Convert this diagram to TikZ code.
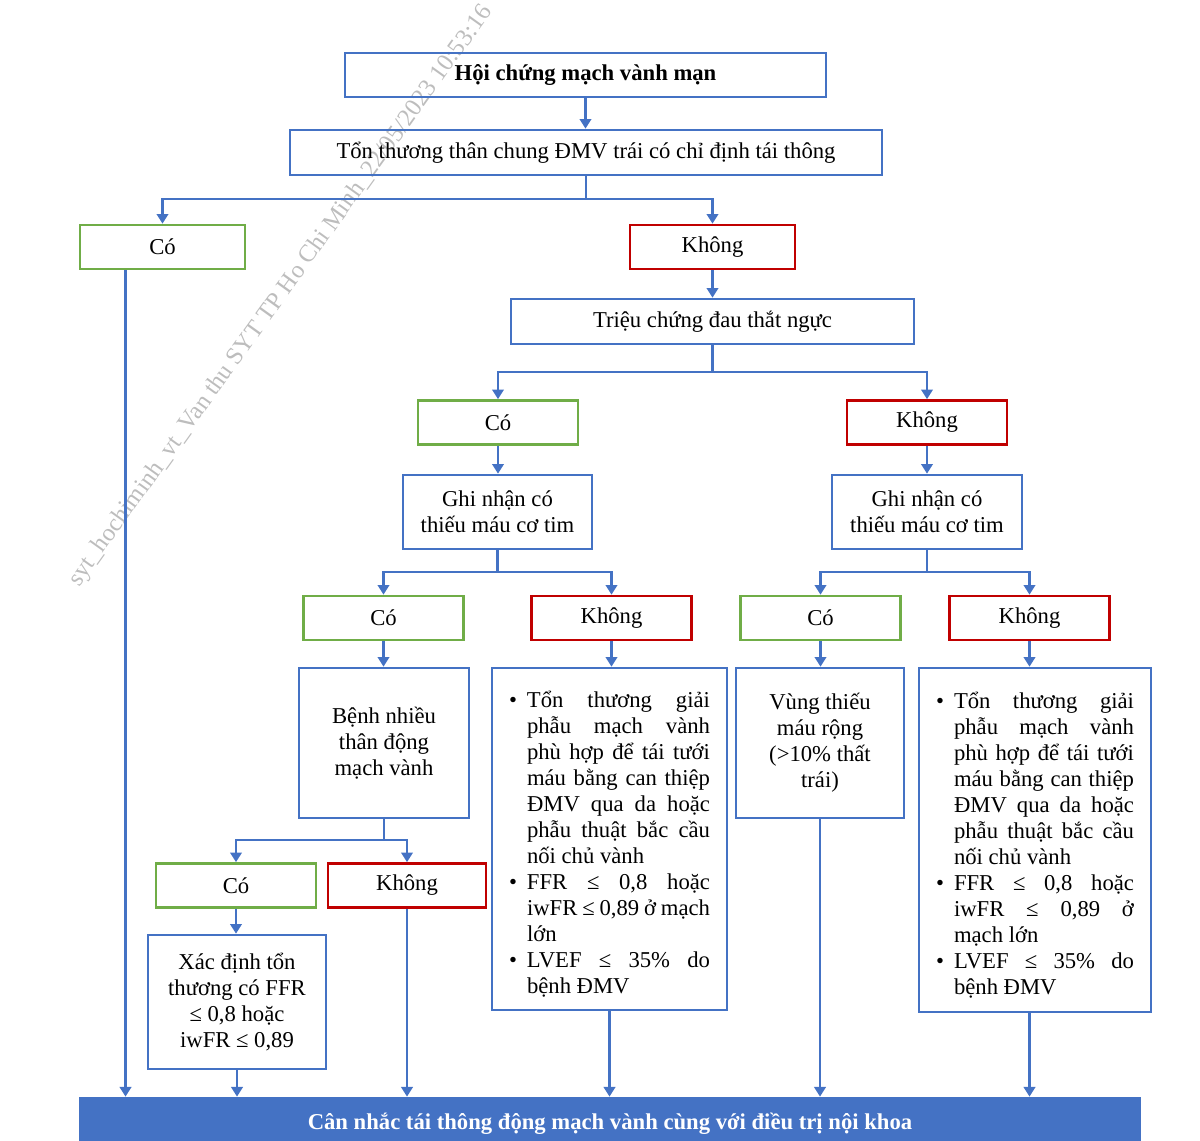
\documentclass[tikz,border=0pt]{standalone}
\usepackage{fontspec}
\setmainfont{Liberation Serif}
\usetikzlibrary{arrows.meta}

\definecolor{bluebox}{HTML}{4472C4}
\definecolor{greenbox}{HTML}{70AD47}
\definecolor{redbox}{HTML}{C00000}

\newcommand{\muc}{\par\noindent\hangindent=0.36cm\hangafter=1\makebox[0.36cm][l]{\textbullet}}

\tikzset{
	txt/.style={font=\fontsize{12.9}{14.8}\selectfont},
	box/.style={txt, draw=bluebox, line width=1.5pt, align=center, inner sep=2pt},
	yes/.style={txt, draw=greenbox, line width=1.5pt, minimum width=3.2cm, minimum height=0.88cm},
	no/.style={txt, draw=redbox, line width=1.5pt, minimum width=3.2cm, minimum height=0.88cm},
	list/.style={box, align=justify, inner xsep=0.34cm, minimum height=6.84cm},
	bar/.style={fill=bluebox, text=white, font=\fontsize{12.9}{14.8}\selectfont\bfseries, minimum width=21.24cm, minimum height=1.06cm},
	link/.style={draw=bluebox, line width=1.5pt}
}

\begin{document}
\begin{tikzpicture}[x=0.02cm, y=-0.02cm, >={Triangle[length=5.5pt,width=6.5pt]}]
			\useasboundingbox (0,0) rectangle (1200,1141);

			% watermark
			\node[rotate=54.3, text=black!26, font=\fontsize{14}{16}\selectfont] (wm) at (281,296) {syt\_hochiminh\_vt\_Van thu SYT TP Ho Chi Minh\_22/05/2023 10:53:16};

			\node[box, minimum width=9.62cm, minimum height=0.88cm, font=\fontsize{12.9}{14.8}\selectfont\bfseries] (hc) at (585.5,75) {Hội chứng mạch vành mạn};
			\node[box, minimum width=11.84cm, minimum height=0.9cm] (tt) at (586,152.5) {Tổn thương thân chung ĐMV trái có chỉ định tái thông};

			\node[yes, minimum width=3.3cm] (co1) at (162.5,247) {Có};
			\node[no, minimum width=3.3cm] (kh1) at (712.5,247) {Không};
			\node[box, minimum width=8.06cm, minimum height=0.9cm] (tc) at (712.5,321.5) {Triệu chứng đau thắt ngực};

			\node[yes] (co2) at (498,422.5) {Có};
			\node[no] (kh2) at (927,422.5) {Không};
			\node[box, minimum width=3.78cm, minimum height=1.48cm] (gn1) at (497.5,512) {Ghi nhận có\\thiếu máu cơ tim};
			\node[box, minimum width=3.8cm, minimum height=1.48cm] (gn2) at (927,512) {Ghi nhận có\\thiếu máu cơ tim};

			\node[yes] (co3) at (383.5,618) {Có};
			\node[no] (kh3) at (611.5,618) {Không};
			\node[yes] (co4) at (820.5,618) {Có};
			\node[no] (kh4) at (1029.5,618) {Không};

			\node[box, minimum width=3.4cm, minimum height=3cm] (bn) at (384,743) {Bệnh nhiều\\thân động\\mạch vành};
			\node[list, text width=4.02cm] (ds1) at (609.5,839) {%
				\muc Tổn thương giải\linebreak phẫu mạch vành\linebreak phù hợp để tái tưới\linebreak máu bằng can thiệp\linebreak ĐMV qua da hoặc\linebreak phẫu thuật bắc cầu\linebreak nối chủ vành
				\muc FFR ≤ 0,8 hoặc\linebreak iwFR ≤ 0,89 ở mạch\linebreak lớn
				\muc LVEF ≤ 35\% do\linebreak bệnh ĐMV\par};
			\node[box, minimum width=3.36cm, minimum height=3cm] (vt) at (820,743) {Vùng thiếu\\máu rộng\\(>10\% thất\\trái)};
			\node[list, text width=3.96cm, minimum height=6.88cm] (ds2) at (1035,840) {%
				\muc Tổn thương giải\linebreak phẫu mạch vành\linebreak phù hợp để tái tưới\linebreak máu bằng can thiệp\linebreak ĐMV qua da hoặc\linebreak phẫu thuật bắc cầu\linebreak nối chủ vành
				\muc FFR ≤ 0,8 hoặc\linebreak iwFR ≤ 0,89 ở\linebreak mạch lớn
				\muc LVEF ≤ 35\% do\linebreak bệnh ĐMV\par};

			\node[yes] (co5) at (236,885.5) {Có};
			\node[no, minimum width=3.16cm] (kh5) at (407,885.5) {Không};
			\node[box, minimum width=3.56cm, minimum height=2.68cm] (xd) at (237,1002) {Xác định tổn\\thương có FFR\\≤ 0,8 hoặc\\iwFR ≤ 0,89};

			\node[bar] (kl) at (610,1123.5) {Cân nhắc tái thông động mạch vành cùng với điều trị nội khoa};

			\coordinate (j1) at (586,199);
			\coordinate (j2) at (712.5,372);
			\coordinate (j3) at (497.5,572);
			\coordinate (j4) at (927,572);
			\coordinate (j5) at (384,840);
			\coordinate (c1) at ([xshift=-0.74cm]co1.south);

			\draw[link, ->] (hc.south) to (hc.south |- tt.north);
			\draw[link] (tt.south) to (tt.south |- j1);
			\draw[link, ->] (j1) -| (co1.north);
			\draw[link, ->] (j1) -| (kh1.north);
			\draw[link, ->] (c1) to (c1 |- kl.north);

			\draw[link, ->] (kh1.south) to (kh1.south |- tc.north);
			\draw[link] (tc.south) to (j2);
			\draw[link, ->] (j2) -| (co2.north);
			\draw[link, ->] (j2) -| (kh2.north);

			\draw[link, ->] (co2.south) to (co2.south |- gn1.north);
			\draw[link, ->] (kh2.south) to (kh2.south |- gn2.north);
			\draw[link] (gn1.south) to (j3);
			\draw[link, ->] (j3) -| (co3.north);
			\draw[link, ->] (j3) -| (kh3.north);
			\draw[link] (gn2.south) to (j4);
			\draw[link, ->] (j4) -| (co4.north);
			\draw[link, ->] (j4) -| (kh4.north);

			\draw[link, ->] (co3.south) to (co3.south |- bn.north);
			\draw[link, ->] (kh3.south) to (kh3.south |- ds1.north);
			\draw[link, ->] (co4.south) to (co4.south |- vt.north);
			\draw[link, ->] (kh4.south) to (kh4.south |- ds2.north);

			\draw[link] (bn.south) to (j5);
			\draw[link, ->] (j5) -| (co5.north);
			\draw[link, ->] (j5) -| (kh5.north);
			\draw[link, ->] (co5.south) to (co5.south |- xd.north);

			\draw[link, ->] (xd.south) to (xd.south |- kl.north);
			\draw[link, ->] (kh5.south) to (kh5.south |- kl.north);
			\draw[link, ->] (ds1.south) to (ds1.south |- kl.north);
			\draw[link, ->] (vt.south) to (vt.south |- kl.north);
			\draw[link, ->] (kh4 |- ds2.south) to (kh4 |- kl.north);

		\end{tikzpicture}
\end{document}
